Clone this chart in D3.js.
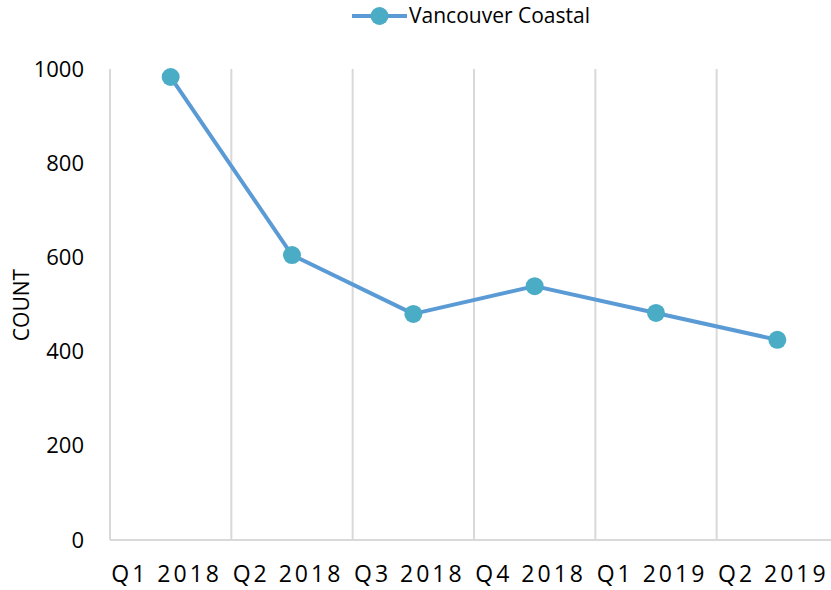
<!DOCTYPE html>
<html lang="en">
<head>
    <meta charset="utf-8">
    <title>Vancouver Coastal count</title>
    <script src="https://d3js.org/d3.v7.min.js"></script>
    <style>
        body { margin: 0; background: #fff; }
        text { font-family: "Open Sans", sans-serif; fill: #000; }
    </style>
</head>
<body>
    <svg width="831" height="590" id="chart"></svg>
    <script>
        // data
        var quarters = ["Q1 2018", "Q2 2018", "Q3 2018", "Q4 2018", "Q1 2019", "Q2 2019"];
        var counts = [983, 605, 480, 539, 482, 425];
        var yTicks = [0, 200, 400, 600, 800, 1000];
        var seriesName = "Vancouver Coastal";

        var svg = d3.select("#chart");
        var plotLeft = 110, plotRight = 838, plotTop = 69, plotBottom = 540;

        var data = quarters.map(function (q, i) { return { q: q, v: counts[i] }; });

        var x = d3.scaleBand().domain(quarters).range([plotLeft, plotRight]).padding(0);
        var y = d3.scaleLinear().domain([0, 1000]).range([plotBottom, plotTop]);

        // vertical gridlines at category boundaries
        svg.append("g")
            .selectAll("line")
            .data(quarters)
            .enter().append("line")
            .attr("x1", function (d) { return x(d); })
            .attr("x2", function (d) { return x(d); })
            .attr("y1", plotTop)
            .attr("y2", plotBottom)
            .attr("stroke", "#d9d9d9")
            .attr("stroke-width", 2);

        // x axis
        var xAxis = svg.append("g")
            .attr("transform", "translate(0," + plotBottom + ")")
            .call(d3.axisBottom(x).tickSize(0).tickPadding(26));
        xAxis.select(".domain").attr("stroke", "#d9d9d9").attr("stroke-width", 2)
            .attr("d", "M" + plotLeft + ",0H" + plotRight);
        xAxis.selectAll("text")
            .attr("font-size", "23px")
            .attr("letter-spacing", "3px")
            .attr("dx", "-4px")
            .attr("font-family", "Open Sans, sans-serif");

        // y axis (labels only)
        var yAxis = svg.append("g")
            .attr("transform", "translate(" + plotLeft + ",0)")
            .call(d3.axisLeft(y).tickValues(yTicks).tickFormat(d3.format("d")).tickSize(0).tickPadding(26));
        yAxis.select(".domain").remove();
        yAxis.selectAll("text")
            .attr("font-size", "22px")
            .attr("font-family", "Open Sans, sans-serif");

        svg.append("text")
            .attr("transform", "translate(29,305) rotate(-90)")
            .attr("text-anchor", "middle")
            .attr("font-size", "21px")
            .text("COUNT");

        // series
        svg.append("path")
            .datum(data)
            .attr("fill", "none")
            .attr("stroke", "#5b9bd5")
            .attr("stroke-width", 4)
            .attr("stroke-linejoin", "round")
            .attr("d", d3.line()
                .x(function (d) { return x(d.q) + x.bandwidth() / 2; })
                .y(function (d) { return y(d.v); }));

        svg.selectAll(".dot")
            .data(data)
            .enter().append("circle")
            .attr("class", "dot")
            .attr("r", 9)
            .attr("cx", function (d) { return x(d.q) + x.bandwidth() / 2; })
            .attr("cy", function (d) { return y(d.v); })
            .attr("fill", "#4bacc6");

        // legend
        var lg = svg.append("g").attr("transform", "translate(352,16)");
        lg.append("line")
            .attr("x1", 0).attr("x2", 55)
            .attr("stroke", "#5b9bd5").attr("stroke-width", 4);
        lg.append("circle").attr("cx", 27.5).attr("r", 9).attr("fill", "#4bacc6");
        lg.append("text")
            .attr("x", 57)
            .attr("y", 7)
            .attr("font-size", "21px")
            .text(seriesName);
    </script>
</body>
</html>
